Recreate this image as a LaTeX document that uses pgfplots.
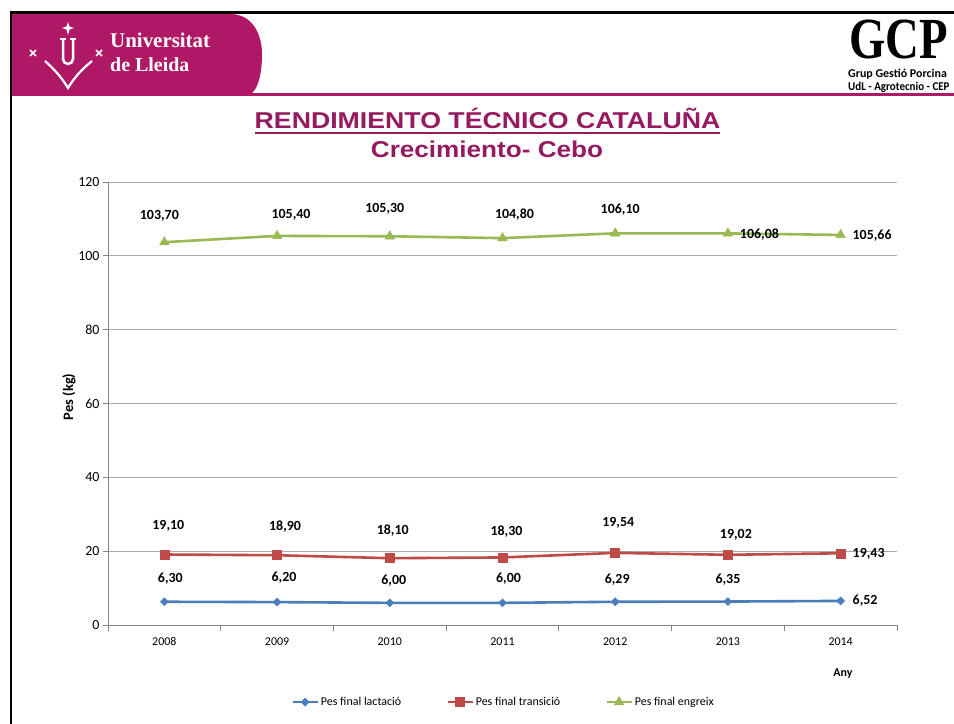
\documentclass[border=0pt]{standalone}
\usepackage{fontspec}
\setmainfont{Carlito}
\newfontfamily\arialfont{Liberation Sans}
\newfontfamily\timesfont{Liberation Serif}
\usepackage{graphicx}
\usepackage{pgfplots}
\usepackage{pgfplotstable}
\pgfplotsset{compat=1.18}
\definecolor{lblue}{RGB}{74,126,187}
\definecolor{lred}{RGB}{190,75,72}
\definecolor{lgreen}{RGB}{152,185,84}
\definecolor{titlepurple}{RGB}{150,26,95}
\definecolor{udlmag}{RGB}{175,24,100}
\definecolor{axgray}{RGB}{134,134,134}
\definecolor{gridgray}{RGB}{170,170,170}
\newcommand\labelfont{\fontsize{14}{16}\selectfont\bfseries}
\pgfplotsset{
  dlabels/.style={
    draw=none, mark=none, forget plot,
    nodes near coords={\pgfplotspointmeta},
    point meta=explicit symbolic,
    visualization depends on={\thisrow{dx}\as\ldx},
    visualization depends on={\thisrow{dy}\as\ldy},
    every node near coord/.append style={anchor=center, xshift=\ldx bp, yshift=\ldy bp, inner sep=0pt, font=\labelfont, text=black},
  }
}

\pgfplotstableread{
x y lab dx dy
0 6.30 6,30 6 23
1 6.20 6,20 7 24
2 6.00 6,00 4 22
3 6.00 6,00 6 24.5
4 6.29 6,29 2 22
5 6.35 6,35 0 21.6
6 6.52 6,52 24.5 0
}\lact
\pgfplotstableread{
x y lab dx dy
0 19.10 19,10 4 28.8
1 18.90 18,90 8 28.5
2 18.10 18,10 3 27.2
3 18.30 18,30 4 25.7
4 19.54 19,54 3 30.2
5 19.02 19,02 8 19.8
6 19.43 19,43 28 -1
}\trans
\pgfplotstableread{
x y lab dx dy
0 103.70 103,70 -5 26.2
1 105.40 105,40 14 20.9
2 105.30 105,30 -5 27
3 104.80 104,80 12 23.1
4 106.10 106,10 5 24
5 106.08 106,08 31.5 -0.9
6 105.66 105,66 31.5 -1
}\engr

\begin{document}
\begin{tikzpicture}
\useasboundingbox (0,0) rectangle (954bp,-724bp);
\fill[white] (0,0) rectangle (954bp,-724bp);
% header band
\fill[udlmag] (10bp,-14bp) -- (230bp,-14bp) .. controls (253bp,-14bp) and (262bp,-35bp) .. (262bp,-54bp) .. controls (262bp,-74bp) and (258bp,-88bp) .. (252bp,-93bp) -- (10bp,-93bp) -- cycle;
\fill[udlmag] (10bp,-93bp) rectangle (954bp,-96bp);
\draw[black, line width=2.5bp] (11bp,-724bp) -- (11bp,-12.5bp) -- (954bp,-12.5bp);
% UdL symbol
\fill[white] (68bp,-22bp) -- (69.5bp,-26.5bp) -- (74bp,-28bp) -- (69.5bp,-29.5bp) -- (68bp,-35bp) -- (66.5bp,-29.5bp) -- (62bp,-28bp) -- (66.5bp,-26.5bp) -- cycle;
\draw[white, line width=2.5bp] (63bp,-39bp) -- (63bp,-59bp) arc[start angle=180,end angle=360,radius=5bp] -- (73bp,-39bp);
\draw[white, line width=1.5bp] (60bp,-39bp) -- (66bp,-39bp) (70bp,-39bp) -- (76bp,-39bp);
\draw[white, line width=2.2bp] (45bp,-61bp) .. controls (55bp,-70bp) and (62bp,-78bp) .. (68bp,-88bp) .. controls (74bp,-78bp) and (81bp,-70bp) .. (92bp,-61bp);
\draw[white, line width=1.6bp] (30bp,-50bp) -- (36bp,-56bp) (30bp,-56bp) -- (36bp,-50bp);
\draw[white, line width=1.6bp] (96bp,-50bp) -- (102bp,-56bp) (96bp,-56bp) -- (102bp,-50bp);
\node[anchor=base west, inner sep=0pt, text=white, font=\timesfont\bfseries\fontsize{21}{24}\selectfont] at (110bp,-47bp) {Universitat};
\node[anchor=base west, inner sep=0pt, text=white, font=\timesfont\bfseries\fontsize{20}{24}\selectfont] at (110bp,-71bp) {de Lleida};
% GCP logo
\node[anchor=base west, inner sep=0pt, font=\timesfont\bfseries\fontsize{46}{48}\selectfont] at (849bp,-58bp) {\scalebox{1.02}[1.27]{GCP}};
\node[anchor=base west, inner sep=0pt, font=\bfseries\fontsize{12}{13}\selectfont] at (848bp,-77.5bp) {Grup Gestió Porcina};
\node[anchor=base west, inner sep=0pt, font=\bfseries\fontsize{12}{13}\selectfont] at (848bp,-90bp) {\scalebox{0.92}[1]{UdL - Agrotecnio - CEP}};
% titles
\node[anchor=base, inner sep=0pt, text=titlepurple, font=\arialfont\bfseries\fontsize{23}{26}\selectfont] at (487.5bp,-128.3bp) {\scalebox{1.165}[1]{RENDIMIENTO TÉCNICO CATALUÑA}};
\fill[titlepurple] (255bp,-132bp) rectangle (720bp,-134bp);
\node[anchor=base, inner sep=0pt, text=titlepurple, font=\arialfont\bfseries\fontsize{23}{26}\selectfont] at (487bp,-157.3bp) {\scalebox{1.14}[1]{Crecimiento- Cebo}};

\begin{axis}[
  at={(108bp,-625bp)}, anchor=south west,
  scale only axis, width=789bp, height=443bp,
  xmin=-0.5, xmax=6.5, ymin=0, ymax=120,
  clip=false,
  axis lines*=left,
  axis line style={-, draw=axgray, line width=0.9bp},
  xtick={0,1,2,3,4,5,6},
  xticklabels={2008,2009,2010,2011,2012,2013,2014},
  major x tick style={draw=none},
  minor xtick={-0.5,0.5,1.5,2.5,3.5,4.5,5.5,6.5},
  minor x tick style={draw=axgray, line width=0.9bp},
  ytick={0,20,40,60,80,100,120},
  y tick style={draw=axgray, line width=0.9bp},
  tick align=outside,
  major tick length=5bp, minor tick length=6bp,
  ymajorgrids,
  grid style={draw=gridgray, line width=0.9bp},
  /pgf/number format/assume math mode=true,
  yticklabel style={font=\fontsize{14}{15}\selectfont, text=black},
  xticklabel style={font=\fontsize{12}{14}\selectfont, text=black, yshift=-4bp},
  xlabel={Any},
  xlabel style={at={(axis description cs:0.9316,-0.1106)}, anchor=center, font=\bfseries\fontsize{12}{14}\selectfont},
  ylabel={Pes (kg)},
  ylabel style={at={(axis description cs:-0.0494,0.515)}, anchor=center, font=\bfseries\fontsize{14.5}{16}\selectfont},
  legend columns=3,
  legend style={at={(axis description cs:0.5013,-0.174)}, anchor=center, draw=none, fill=none,
    font=\fontsize{12}{14}\selectfont,
    /tikz/every even column/.append style={column sep=43bp}},
  legend image code/.code={%
    \draw[mark repeat=2,mark phase=2,#1] plot coordinates {(0bp,0bp) (12.5bp,0bp) (25bp,0bp)};},
]
\addplot[lblue, line width=2.6bp, mark=diamond*, mark size=4bp,
  mark options={solid, fill=lblue, draw=lblue, line width=0.5bp, xscale=1.33}]
  table[x=x, y=y]{\lact};
\addlegendentry{Pes final lactació}
\addplot[lred, line width=2.6bp, mark=square*, mark size=4.5bp,
  mark options={solid, fill=lred, draw=lred, line width=0.5bp}]
  table[x=x, y=y]{\trans};
\addlegendentry{Pes final transició}
\addplot[lgreen, line width=2.6bp, mark=triangle*, mark size=5.5bp,
  mark options={solid, fill=lgreen, draw=lgreen, line width=0.5bp}]
  table[x=x, y=y]{\engr};
\addlegendentry{Pes final engreix}
\addplot[dlabels] table[x=x, y=y, meta=lab]{\lact};
\addplot[dlabels] table[x=x, y=y, meta=lab]{\trans};
\addplot[dlabels] table[x=x, y=y, meta=lab]{\engr};
\end{axis}
\end{tikzpicture}
\end{document}
